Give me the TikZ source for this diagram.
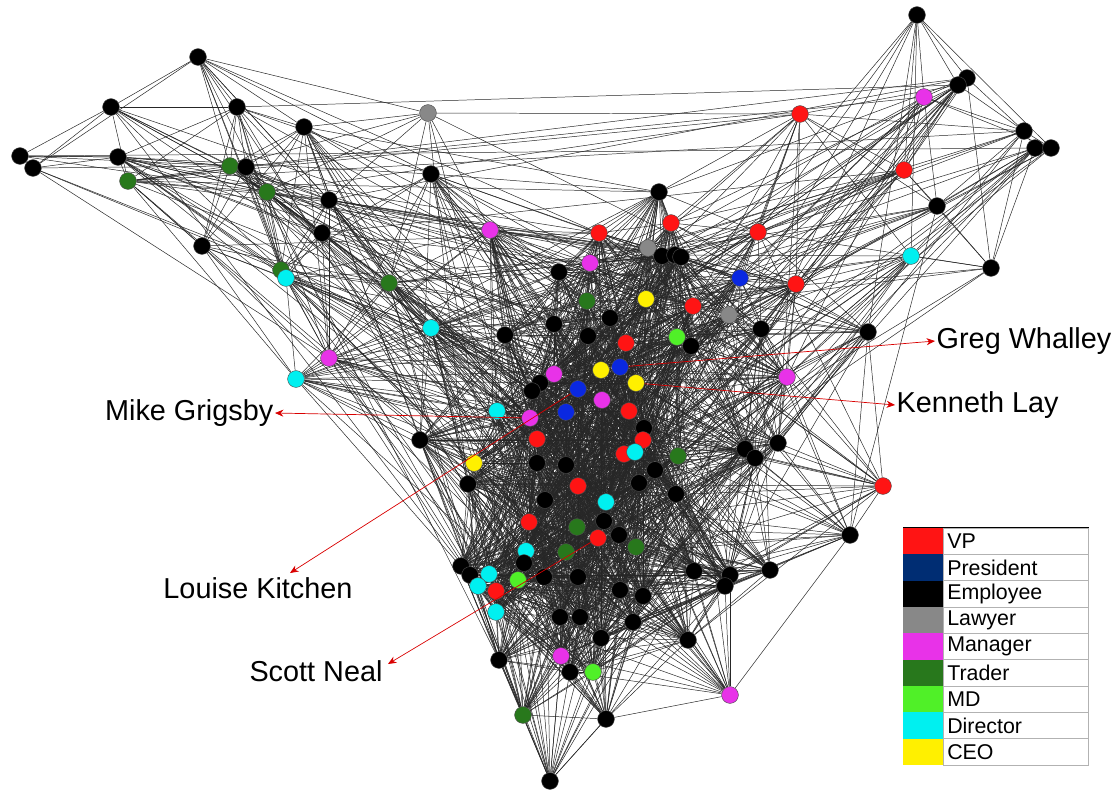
\documentclass[tikz,border=0pt]{standalone}
\usepackage{fontspec}
\setmainfont{Liberation Sans}
\usetikzlibrary{arrows.meta}
\pgfdeclarelayer{background}
\pgfsetlayers{background,main}
\definecolor{vpred}{RGB}{255,20,20}
\definecolor{presblue}{RGB}{10,40,225}
\definecolor{presnavy}{RGB}{0,45,115}
\definecolor{lawgray}{RGB}{136,136,136}
\definecolor{mgrmag}{RGB}{232,50,232}
\definecolor{trdgreen}{RGB}{40,120,28}
\definecolor{mdgreen}{RGB}{80,240,40}
\definecolor{dircyan}{RGB}{0,240,240}
\definecolor{ceoyel}{RGB}{255,240,0}
\begin{document}
\begin{tikzpicture}[x=0.025cm, y=-0.025cm,
  main node/.style={circle,draw=black!70,line width=0.3pt,minimum size=0.42cm,inner sep=0pt},
  vp/.style={main node,fill=vpred},
  pres/.style={main node,fill=presblue},
  emp/.style={main node,fill=black},
  law/.style={main node,fill=lawgray},
  mgr/.style={main node,fill=mgrmag},
  trd/.style={main node,fill=trdgreen},
  md/.style={main node,fill=mdgreen},
  dir/.style={main node,fill=dircyan},
  ceo/.style={main node,fill=ceoyel},
  link/.style={draw=black!85,line width=0.35pt},
  name arrow/.style={draw=red!85!black,line width=0.5pt,-{Stealth[length=6pt,width=5pt]}},
  name label/.style={font=\fontsize{20.5}{24}\selectfont,inner sep=1pt},
  swatch/.style={minimum width=1cm,minimum height=0.658cm,inner sep=0pt,anchor=west},
  entry/.style={draw=black!30,minimum height=0.658cm,text width=3.425cm,inner xsep=0.1cm,
    inner ysep=0pt,align=left,anchor=west,font=\fontsize{15.2}{18}\selectfont}]
\useasboundingbox (0,0) rectangle (1120,792);
% people
\foreach \x/\y/\r [count=\i] in {
  198/57/emp, 111/107/emp, 237/107/emp, 304/127/emp, 428/113/law, 20/156/emp,
  33/168/emp, 118/157/emp, 128/181/trd, 230/166/trd, 246/167/emp, 267/192/trd,
  329/200/emp, 431/174/emp, 322/233/emp, 202/246/emp, 490/230/mgr, 281/270/trd,
  286/278/dir, 389/283/trd, 431/328/dir, 329/358/mgr, 296/379/dir,
  917/15/emp, 967/78/emp, 958/85/emp, 924/97/mgr, 800/114/vp, 1024/131/emp,
  1035/148/emp, 1051/148/emp, 904/170/vp, 659/192/emp, 937/206/emp, 911/256/dir,
  991/268/emp, 758/232/vp, 796/284/vp, 740/278/pres, 868/332/emp, 787/377/mgr,
  761/329/emp,
  599/233/vp, 671/223/vp, 648/248/law, 662/256/emp, 675/255/emp, 681/257/emp,
  590/263/mgr, 559/272/emp, 587/301/trd, 646/299/ceo, 693/306/vp, 729/315/law,
  505/335/emp, 554/324/emp, 588/336/emp, 626/343/vp, 677/337/md, 691/346/emp,
  620/367/pres, 601/370/ceo, 636/383/ceo, 554/374/mgr, 540/383/emp, 532/391/emp,
  578/389/pres, 602/400/mgr, 566/412/pres, 629/411/vp, 497/411/dir, 530/418/mgr,
  420/440/emp, 537/439/vp, 644/428/emp, 643/440/vp, 624/454/vp, 635/452/dir,
  678/456/trd, 745/449/emp, 755/458/emp, 778/443/emp, 474/463/ceo, 468/484/emp,
  537/463/emp, 578/486/vp, 606/502/dir, 676/494/emp, 883/486/vp, 639/483/emp,
  529/522/vp, 577/527/trd, 598/538/vp, 604/521/emp, 619/535/emp, 636/547/trd,
  566/552/trd, 526/551/dir, 524/563/emp, 461/566/emp, 470/575/emp, 489/574/dir,
  478/586/dir, 496/591/vp, 518/580/md, 496/612/dir, 544/577/emp, 578/577/emp,
  643/596/emp, 694/571/emp, 730/575/emp, 725/586/emp, 770/570/emp, 850/535/emp,
  560/617/emp, 580/617/emp, 601/638/emp, 633/622/emp, 688/640/emp, 499/660/emp,
  561/656/mgr, 570/672/emp, 593/672/md, 730/695/mgr, 523/715/trd, 606/719/emp,
  550/781/emp, 566/465/emp, 655/470/emp, 620/590/emp, 545/500/emp, 610/318/emp}
{
  \node[\r] (n\i) at (\x,\y) {};
  \expandafter\xdef\csname px\i\endcsname{\x}
  \expandafter\xdef\csname py\i\endcsname{\y}
  \xdef\numpeople{\i}
}
% e-mail links, more likely between close people
\pgfmathsetseed{2718}
\pgfmathtruncatemacro\lastone{\numpeople-1}
\begin{pgfonlayer}{background}
\foreach \i in {1,...,\lastone} {
  \pgfmathtruncatemacro\nexti{\i+1}
  \foreach \j in {\nexti,...,\numpeople} {
    \pgfmathsetmacro\dd{veclen((\csname px\i\endcsname-\csname px\j\endcsname)/100,(\csname py\i\endcsname-\csname py\j\endcsname)/100)}
    \pgfmathsetmacro\pp{0.88*exp(-(\dd/2.1)^2)+0.035}
    \pgfmathsetmacro\rr{rnd}
    \ifdim\rr pt<\pp pt \draw[link] (n\i) -- (n\j); \fi
  }
}
\draw[link] (n5) -- (n28);
\draw[link] (n6) -- (n8);
\draw[link] (n7) -- (n22);
\draw[link] (n1) -- (n5);
\end{pgfonlayer}
% names
\node[name label,anchor=west] (gw) at (935,341) {Greg Whalley};
\node[name label,anchor=west] (kl) at (895,405) {Kenneth Lay};
\node[name label,anchor=east] (mg) at (275,413) {Mike Grigsby};
\node[name label] (lk) at (258,588) {Louise Kitchen};
\node[name label] (sn) at (316,671) {Scott Neal};
\coordinate (lktip) at (290,573);
\coordinate (sntip) at (388,664);
\draw[name arrow] (n61) -- (gw.west);
\draw[name arrow] (n63) -- (kl.west);
\draw[name arrow] (n72) -- (mg.east);
\draw[name arrow] (n67) -- (lktip);
\draw[name arrow] (n93) -- (sntip);
% legend
\foreach \t/\c [count=\k] in {VP/vpred, President/presnavy, Employee/black, Lawyer/lawgray,
  Manager/mgrmag, Trader/trdgreen, MD/mdgreen, Director/dircyan, CEO/ceoyel} {
  \node[swatch,fill=\c] (s\k) at (903,{528+26.33*(\k-0.5)}) {};
  \node[entry,fill=white] (e\k) at (943,{528+26.33*(\k-0.5)}) {\t};
}
\draw[black,line width=0.6pt] (s1.north west) -- (e1.north east);
\end{tikzpicture}
\end{document}
